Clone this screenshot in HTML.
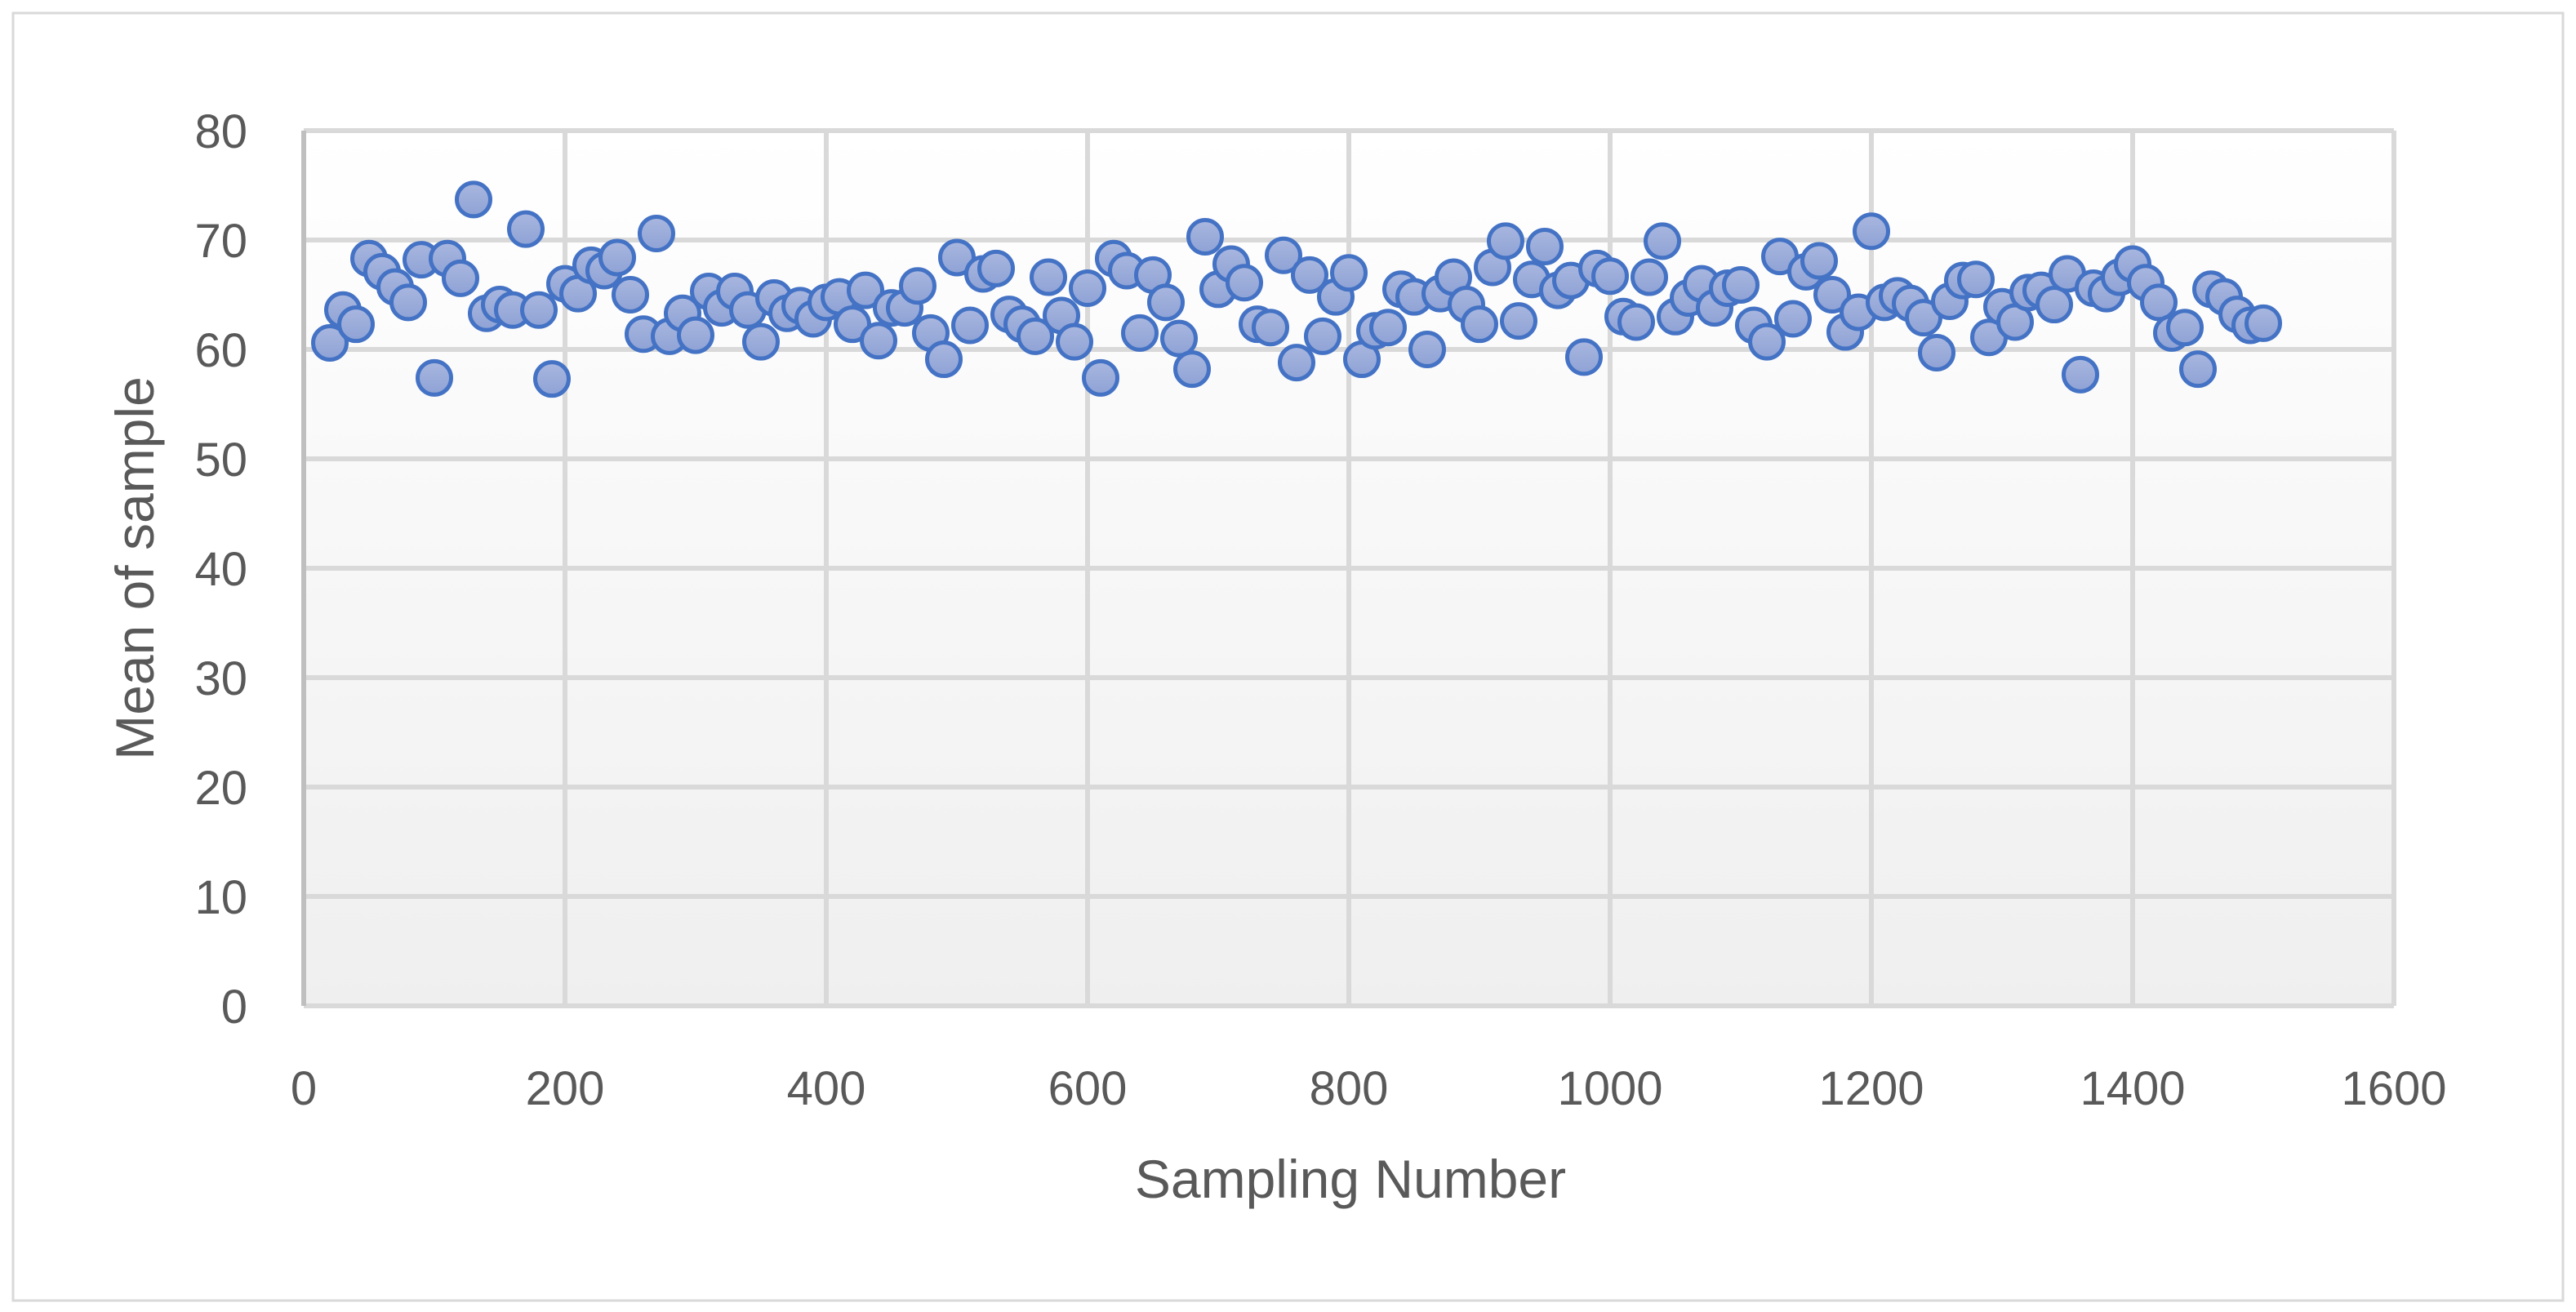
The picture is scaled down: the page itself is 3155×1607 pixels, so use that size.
<!DOCTYPE html>
<html><head><meta charset="utf-8"><style>
html,body{margin:0;padding:0;background:#fff}
svg{display:block}
text{font-family:"Liberation Sans",sans-serif;fill:#595959}
</style></head><body>
<svg id="chart" width="3155" height="1607" viewBox="0 0 3155 1607" xmlns="http://www.w3.org/2000/svg">
<defs>
<linearGradient id="bg" x1="0" y1="0" x2="0" y2="1"><stop offset="0" stop-color="#ffffff"/><stop offset="1" stop-color="#efefef"/></linearGradient>
<linearGradient id="mk" x1="0" y1="0" x2="0" y2="1"><stop offset="0" stop-color="#a9b7df"/><stop offset="1" stop-color="#8ea2d5"/></linearGradient>
</defs>
<rect x="16" y="16" width="3123" height="1577" fill="#fff" stroke="#d9d9d9" stroke-width="3"/>
<rect x="372" y="160" width="2560" height="1072" fill="url(#bg)"/>
<g id="grid"></g>
<g id="ticks"></g>
<g id="points"></g>
<text transform="translate(188,696) rotate(-90)" text-anchor="middle" font-size="66">Mean of sample</text>
<text x="1654" y="1467" text-anchor="middle" font-size="66">Sampling Number</text>
</svg>
<script>
const xTicks=[0,200,400,600,800,1000,1200,1400,1600];
const yTicks=[0,10,20,30,40,50,60,70,80];
const sampleNumbers=[];
for(let s=20;s<=1500;s+=10) sampleNumbers.push(s);
const sampleMeans=[60.6,63.6,62.3,68.3,67.1,65.7,64.3,68.2,57.4,68.3,66.5,73.7,63.3,64.1,63.6,71.0,63.6,57.3,
66.0,65.1,67.7,67.2,68.4,65.0,61.4,70.6,61.2,63.3,61.3,65.3,63.8,65.3,63.6,60.7,64.7,63.3,64.0,62.8,
64.3,64.8,62.3,65.4,60.8,63.8,63.8,65.8,61.5,59.1,68.4,
62.2,66.9,67.4,63.2,62.3,61.2,66.6,63.1,60.7,65.6,57.4,68.3,67.2,61.5,66.8,64.3,61.0,58.2,70.3,
65.5,67.8,66.1,62.3,62.0,68.6,58.8,66.8,61.2,64.8,67.0,59.1,61.7,62.0,65.5,64.8,60.0,65.1,66.6,
64.1,62.3,67.5,69.9,62.6,66.4,69.4,65.4,66.3,59.3,67.4,66.7,
63.0,62.5,66.6,69.9,63.0,64.7,66.0,63.8,65.6,65.9,62.2,60.7,68.5,62.8,67.1,68.1,65.0,61.6,63.4,70.8,
64.3,64.9,64.2,62.9,59.7,64.4,66.3,66.4,61.1,63.9,62.5,65.2,65.4,64.1,66.9,57.7,65.6,65.1,66.6,67.8,
66.1,64.3,61.5,62.0,58.2,65.5,64.8,63.2,62.2,62.4];
const NS="http://www.w3.org/2000/svg";
const X0=372,X1=2932,Y0=1232,Y1=160;
function xs(v){return X0+(v-0)/1600*(X1-X0);}
function ys(v){return Y0-(v-0)/80*(Y0-Y1);}
function mk(tag,attrs,parent){const e=document.createElementNS(NS,tag);for(const k in attrs)e.setAttribute(k,attrs[k]);parent.appendChild(e);return e;}
const grid=document.getElementById('grid'),ticks=document.getElementById('ticks'),pts=document.getElementById('points');
yTicks.forEach(t=>{
  const l=mk('line',{x1:X0,x2:X1,y1:ys(t),y2:ys(t),stroke:'#d9d9d9','stroke-width':6},grid);
  
  
  const tx=mk('text',{x:303,y:ys(t)+21,'text-anchor':'end','font-size':58},ticks);
  tx.textContent=t;
  
  
});
xTicks.forEach(t=>{
  const l=mk('line',{x1:xs(t),x2:xs(t),y1:Y1,y2:Y0,stroke:t===0?'#bfbfbf':'#d9d9d9','stroke-width':6},grid);
  
  
  const tx=mk('text',{x:xs(t),y:1353,'text-anchor':'middle','font-size':58},ticks);
  tx.textContent=t;
  
  
});
sampleNumbers.forEach((s,i)=>{
  const c=mk('circle',{cx:xs(s),cy:ys(sampleMeans[i]),r:20.5,fill:'url(#mk)',stroke:'#4472c4','stroke-width':5},pts);
  
  
});
</script>
</body></html>
